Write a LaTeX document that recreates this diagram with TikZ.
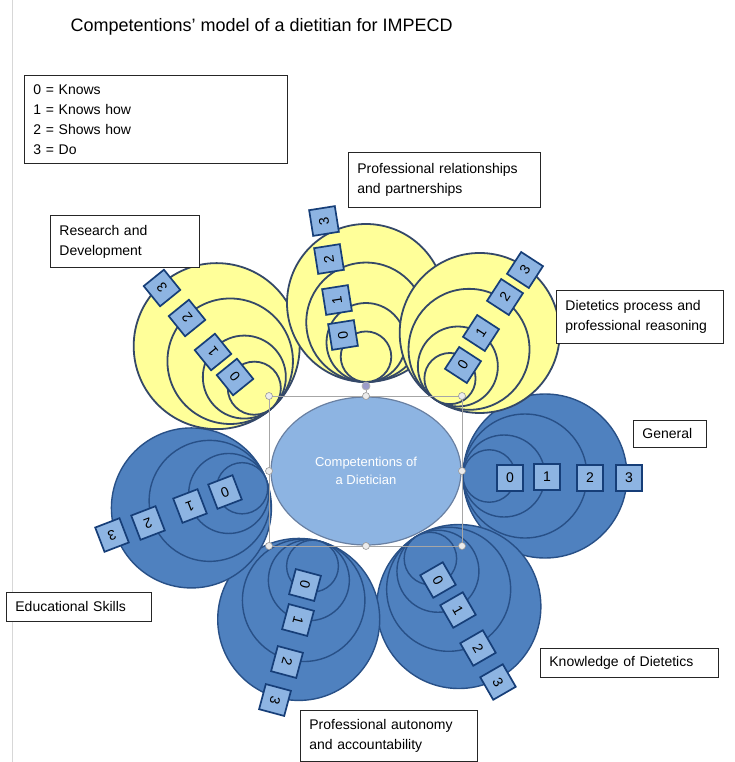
\documentclass[tikz,border=0pt]{standalone}
\usepackage{fontspec}
\setmainfont{Liberation Sans}
\usetikzlibrary{shapes.geometric}
\definecolor{yel}{RGB}{255,255,153}
\definecolor{yline}{RGB}{52,72,104}
\definecolor{blu}{RGB}{79,129,191}
\definecolor{bline}{RGB}{40,80,135}
\definecolor{cfill}{RGB}{141,180,226}
\definecolor{cline}{RGB}{105,128,162}
\definecolor{dfill}{RGB}{141,180,226}
\definecolor{dline}{RGB}{22,62,120}
\definecolor{pagegray}{RGB}{215,215,215}
\newcommand\drawpetal[5]{%
  \foreach \f in {1,0.756,0.5,0.32}{%
    \draw[#5] ({#1+\f*#4*cos(#3)},{#2-\f*#4*sin(#3)}) circle[radius={\f*#4pt}];
  }%
}
\tikzset{
  ypet/.style={fill=yel, draw=yline, line width=1.8pt},
  bpet/.style={fill=blu, draw=bline, line width=1.4pt},
  dbox/.style={draw=dline, fill=dfill, line width=1.7pt, minimum size=26pt, inner sep=0pt, font=\fontsize{14}{14}\selectfont},
  lbl/.style={draw=black!85, line width=0.8pt, fill=white, inner xsep=9pt, inner ysep=0pt, align=left, anchor=north west, font=\fontsize{14}{20}\selectfont},
  handle/.style={circle, draw=gray!80, fill=gray!15, line width=0.6pt, minimum size=7pt, inner sep=0pt},
  selbox/.style={draw=gray!70, line width=0.7pt},
}
\begin{document}
\begin{tikzpicture}[x=1pt,y=-1pt]
\useasboundingbox (0,0) rectangle (734,762);
\fill[white] (0,0) rectangle (734,762);
\draw[pagegray, line width=1pt] (12,0) -- (12,762);

% title
\node[anchor=west, font=\fontsize{18}{18}\selectfont] (title) at (67,27) {Competentions' model of a dietitian for IMPECD};

% legend
\node[lbl, minimum width=263pt, minimum height=88pt, text width=245pt] (legend) at (24,75) {0 = Knows\\1 = Knows how\\2 = Shows how\\3 = Do};

% blue petals
\drawpetal{463}{476}{0}{82}{bpet}
\drawpetal{417}{536}{-59.3}{82}{bpet}
\drawpetal{319}{541}{-104.5}{81}{bpet}
\drawpetal{266}{479}{201.2}{80}{bpet}
% yellow petals
\drawpetal{272}{408}{131.8}{83}{ypet}
\drawpetal{366}{382}{90}{79}{ypet}
\drawpetal{436}{400}{56.9}{80}{ypet}

% level boxes: top-left
\node[dbox, rotate=129] (tl0) at (235,377) {0};
\node[dbox, rotate=129] (tl1) at (213,352) {1};
\node[dbox, rotate=129] (tl2) at (187,318) {2};
\node[dbox, rotate=129] (tl3) at (162,288) {3};
% top
\node[dbox, rotate=99] (t0) at (343,335) {0};
\node[dbox, rotate=99] (t1) at (337,300) {1};
\node[dbox, rotate=99] (t2) at (329,259) {2};
\node[dbox, rotate=99] (t3) at (324,221) {3};
% top-right
\node[dbox, rotate=57] (tr0) at (463,365) {0};
\node[dbox, rotate=57] (tr1) at (481,333) {1};
\node[dbox, rotate=57] (tr2) at (505,297) {2};
\node[dbox, rotate=57] (tr3) at (525,270) {3};
% general
\node[dbox] (g0) at (510,478) {0};
\node[dbox] (g1) at (547,477) {1};
\node[dbox] (g2) at (590,478) {2};
\node[dbox] (g3) at (629,478) {3};
% bottom-right
\node[dbox, rotate=-60] (br0) at (438,580) {0};
\node[dbox, rotate=-60] (br1) at (458,610) {1};
\node[dbox, rotate=-60] (br2) at (478,648) {2};
\node[dbox, rotate=-60] (br3) at (498,682) {3};
% bottom-left
\node[dbox, rotate=-105] (bl0) at (305,585) {0};
\node[dbox, rotate=-105] (bl1) at (298,620) {1};
\node[dbox, rotate=-105] (bl2) at (287,662) {2};
\node[dbox, rotate=-105] (bl3) at (275,700) {3};
% educational
\node[dbox, rotate=201] (e0) at (225,492) {0};
\node[dbox, rotate=201] (e1) at (190,506) {1};
\node[dbox, rotate=201] (e2) at (148,523) {2};
\node[dbox, rotate=201] (e3) at (112,535) {3};

% centre
\node[ellipse, draw=cline, fill=cfill, line width=1.2pt, minimum width=190pt, minimum height=148pt, inner sep=0pt, text=white, align=center, font=\fontsize{13}{18}\selectfont] (core) at (366,471) {Competentions of\\a Dietician};

% selection frame
\draw[selbox] (269,396) rectangle (462,546);
\node[handle] (h1) at (269,396) {};
\node[handle] (h2) at (366,396) {};
\node[handle] (h3) at (462,396) {};
\node[handle] (h4) at (269,471) {};
\node[handle] (h5) at (462,471) {};
\node[handle] (h6) at (269,546) {};
\node[handle] (h7) at (366,546) {};
\node[handle] (h8) at (462,546) {};
\node[circle, draw=gray!60, fill=gray!70!blue!60, line width=0.8pt, minimum size=8pt, inner sep=0pt] (rot) at (366,386) {};
\draw[selbox] (rot) -- (h2);

% labels
\node[lbl, minimum width=192pt, minimum height=55pt, text width=174pt] (prel) at (348,152) {Professional relationships\\and partnerships};
\node[lbl, minimum width=149pt, minimum height=52pt, text width=131pt] (rd) at (50,215) {Research and\\Development};
\node[lbl, minimum width=167pt, minimum height=53pt, text width=149pt] (dp) at (556,290) {Dietetics process and\\professional reasoning};
\node[lbl, minimum width=73pt, minimum height=27pt, text width=55pt] (gen) at (633,420) {General};
\node[lbl, minimum width=145pt, minimum height=29pt, text width=127pt, inner xsep=8pt] (edu) at (6,592) {Educational Skills};
\node[lbl, minimum width=178pt, minimum height=29pt, text width=160pt] (kd) at (540,648) {Knowledge of Dietetics};
\node[lbl, minimum width=177pt, minimum height=51pt, text width=159pt] (pa) at (300,710) {Professional autonomy\\and accountability};
\end{tikzpicture}
\end{document}
